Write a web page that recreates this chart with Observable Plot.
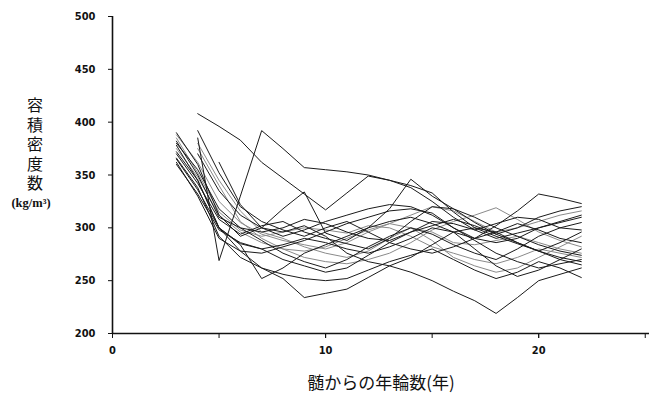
<!DOCTYPE html>
<html>
<head>
<meta charset="utf-8">
<script src="https://cdn.jsdelivr.net/npm/d3@7"></script>
<script src="https://cdn.jsdelivr.net/npm/@observablehq/plot@0.6"></script>
<style>
  html, body { margin: 0; padding: 0; background: #fff; }
  #chart svg { display: block; }
</style>
</head>
<body>
<div id="chart"></div>
<script>
const years = d3.range(3, 23);
const s01 = [null,408,396,383,362,347,332,317,333,349,345,340,333,315,300,292,285,278,272,268];
const s02 = [null,385,269,330,392,375,357,355,353,350,345,338,325,310,298,290,295,300,305,310];
const s03 = [390,360,312,292,300,318,334,295,288,300,318,346,330,318,305,294,300,310,316,320];
const s04 = [372,345,300,278,262,252,234,238,242,253,264,258,250,240,231,219,234,250,256,262];
const s05 = [366,338,292,272,262,256,252,250,252,260,268,274,280,270,260,252,258,268,262,253];
const s06 = [385,352,315,298,292,296,300,298,295,302,300,292,282,276,270,266,272,280,276,272];
const s07 = [378,345,300,285,280,284,290,286,280,276,282,290,300,296,290,302,316,332,328,323];
const s08 = [362,330,290,278,276,282,288,296,304,310,316,318,314,300,288,276,268,262,266,270];
const s09 = [null,375,340,306,290,280,272,268,266,270,276,286,298,306,312,319,308,296,288,282];
const s10 = [null,null,362,322,300,292,298,306,312,318,322,320,312,300,290,286,290,300,306,312];
const s11 = [380,355,318,300,288,276,268,262,270,282,292,300,294,284,276,270,280,292,300,305];
const s12 = [370,342,308,294,302,306,296,290,285,280,290,306,320,318,310,300,292,284,278,274];
const s13 = [388,362,325,305,294,288,284,280,286,296,304,300,288,272,264,258,262,272,282,292];
const s14 = [null,370,335,312,300,296,302,292,276,268,264,272,284,296,300,296,286,278,270,265];
const s15 = [365,336,300,284,252,262,276,284,292,300,306,310,304,296,280,264,254,260,270,280];
const s16 = [375,348,312,296,286,280,278,282,290,298,304,312,320,316,306,296,300,306,312,316];
const s17 = [null,392,352,320,306,298,292,300,306,296,286,280,276,282,290,296,304,298,290,286];
const s18 = [360,332,298,286,280,270,264,258,262,274,286,296,302,308,302,294,286,278,286,296];
const s19 = [null,380,345,316,296,290,282,276,272,278,290,300,296,286,284,288,292,286,280,276];
const s20 = [382,350,310,300,296,300,308,304,296,290,288,296,306,304,298,304,310,308,300,298];

const seriesList = [s01,s02,s03,s04,s05,s06,s07,s08,s09,s10,s11,s12,s13,s14,s15,s16,s17,s18,s19,s20];
const graySeries = [5, 8, 12, 15, 18];
const yTicks = [200, 250, 300, 350, 400, 450, 500];
const xTicksMinor = [0, 5, 10, 15, 20, 25];
const xTicksLabeled = [0, 10, 20];
const yLabel = "容積密度数";
const yUnit = "(kg/m³)";
const xLabel = "髄からの年輪数(年)";

const rows = [];
seriesList.forEach((s, i) => {
  s.forEach((v, j) => {
    if (v != null) rows.push({id: i, x: years[j], y: v, gray: graySeries.includes(i)});
  });
});

const numFont = "'Liberation Sans Narrow', 'DejaVu Sans Condensed', sans-serif";

const plot = Plot.plot({
  width: 651,
  height: 393,
  marginLeft: 112,
  marginRight: 2,
  marginTop: 16,
  marginBottom: 60,
  style: {background: "#fff", fontFamily: numFont, fontSize: "11px", fontWeight: "bold", color: "#111"},
  x: {domain: [0, 25.2]},
  y: {domain: [200, 500]},
  marks: [
    Plot.line(rows.filter(d => d.gray), {x: "x", y: "y", z: "id", stroke: "#8a8a8a", strokeWidth: 1}),
    Plot.line(rows.filter(d => !d.gray), {x: "x", y: "y", z: "id", stroke: "#1a1a1a", strokeWidth: 1}),
    Plot.axisY({ticks: yTicks, tickSize: 4, tickPadding: 13, label: null, stroke: "#111"}),
    Plot.axisX({ticks: xTicksMinor, tickSize: 5, tickFormat: () => "", label: null, stroke: "#111"}),
    Plot.axisX({ticks: xTicksLabeled, tickSize: 5, tickPadding: 8, label: null, stroke: "#111"}),
    Plot.ruleX([0], {stroke: "#111", strokeWidth: 1.6}),
    Plot.ruleY([200], {stroke: "#111", strokeWidth: 1.6})
  ]
});

document.getElementById("chart").appendChild(plot);

const svg = d3.select(plot);
const g = svg.append("g")
  .attr("font-family", "'Noto Sans CJK JP', sans-serif")
  .attr("font-weight", "normal")
  .attr("fill", "#111");
g.append("text")
  .attr("x", 35)
  .attr("y", 146)
  .attr("font-size", 16)
  .attr("letter-spacing", 3.5)
  .style("writing-mode", "vertical-rl")
  .text(yLabel);
g.append("text")
  .attr("x", 31)
  .attr("y", 203)
  .attr("dy", "0.35em")
  .attr("text-anchor", "middle")
  .attr("font-size", 12.5)
  .attr("font-family", "'Liberation Serif', serif")
  .attr("font-weight", "bold")
  .text(yUnit);
g.append("text")
  .attr("x", 381)
  .attr("y", 383)
  .attr("dy", "0.35em")
  .attr("text-anchor", "middle")
  .attr("font-size", 17)
  .text(xLabel);
</script>
</body>
</html>
